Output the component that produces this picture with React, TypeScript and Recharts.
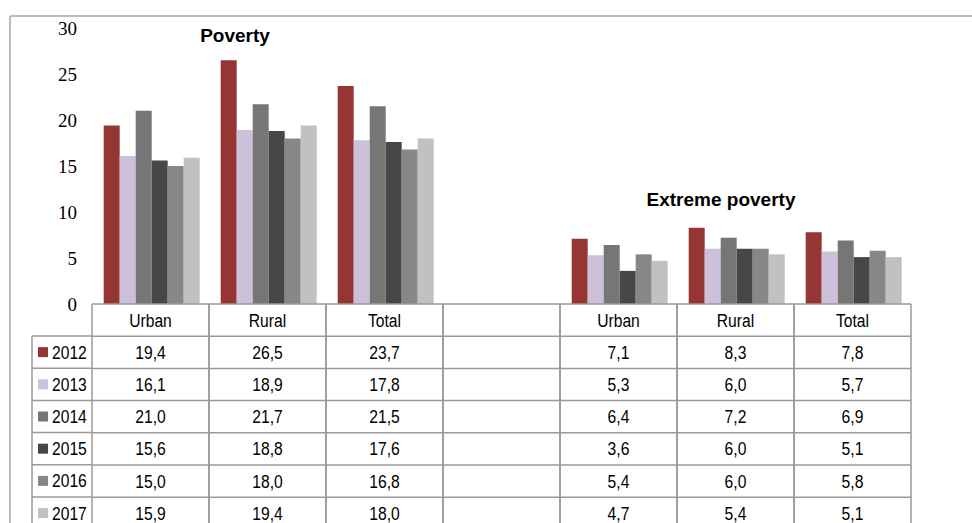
import { BarChart, Bar, XAxis, YAxis, Legend } from "recharts";

// categories along the x axis (blank one separates the two panels)
const CATEGORIES = ["Urban", "Rural", "Total", "", "Urban", "Rural", "Total"];
const YEARS = ["2012", "2013", "2014", "2015", "2016", "2017"];
const COLORS = ["#963634", "#ccc0da", "#767676", "#474747", "#878787", "#c1c1c1"];

const V2012 = [19.4, 26.5, 23.7, null, 7.1, 8.3, 7.8];
const V2013 = [16.1, 18.9, 17.8, null, 5.3, 6.0, 5.7];
const V2014 = [21.0, 21.7, 21.5, null, 6.4, 7.2, 6.9];
const V2015 = [15.6, 18.8, 17.6, null, 3.6, 6.0, 5.1];
const V2016 = [15.0, 18.0, 16.8, null, 5.4, 6.0, 5.8];
const V2017 = [15.9, 19.4, 18.0, null, 4.7, 5.4, 5.1];
const SERIES = [V2012, V2013, V2014, V2015, V2016, V2017];

const Y_TICKS = [0, 5, 10, 15, 20, 25, 30];

const data = CATEGORIES.map((name, i) => {
  const row: any = { key: `c${i}`, name };
  YEARS.forEach((y, s) => (row[y] = SERIES[s][i]));
  return row;
});

const W = 972;
const H = 523;
const PLOT_RIGHT = 911;
const PLOT_LEFT = 92;
const AXIS_Y = 304;
const ROW_H = 32.2;
const COL_W = (PLOT_RIGHT - PLOT_LEFT) / CATEGORIES.length;
const LINE = "#9a9a9a";
const TABLE_FONT = "'Liberation Sans', Arial, sans-serif";

const fmt = (v: number | null) => (v == null ? "" : v.toFixed(1).replace(".", ","));

// narrow table text (Calibri-like look)
const CellText = ({ x, y, anchor = "middle", children }: any) => (
  <text
    transform={`translate(${x} ${y}) scale(0.87 1)`}
    dy="0.36em"
    textAnchor={anchor}
    fontFamily={TABLE_FONT}
    fontSize={18}
    fill="#000"
  >
    {children}
  </text>
);

// one column of the data table, drawn at each x tick
const TableColumn = (props: any) => {
  const { x, index } = props;
  const top = AXIS_Y;
  const left = x - COL_W / 2;
  const right = x + COL_W / 2;
  return (
    <g>
      <line x1={left} x2={left} y1={top} y2={H + 10} stroke={LINE} strokeWidth={1.5} />
      <line x1={right} x2={right} y1={top} y2={H + 10} stroke={LINE} strokeWidth={1.5} />
      {YEARS.map((_, r) => (
        <line key={r} x1={left} x2={right} y1={top + (r + 1) * ROW_H} y2={top + (r + 1) * ROW_H} stroke={LINE} strokeWidth={1.5} />
      ))}
      <CellText x={x} y={top + ROW_H / 2}>{CATEGORIES[index]}</CellText>
      {SERIES.map((s, r) => (
        <CellText key={r} x={x} y={top + (r + 1.5) * ROW_H}>
          {fmt(s[index])}
        </CellText>
      ))}
    </g>
  );
};

// legend doubles as the row headers of the table
const LegendColumn = ({ payload }: any) => {
  const w = PLOT_LEFT - 30;
  const items = payload || [];
  return (
    <svg width={w} height={items.length * ROW_H + 4} style={{ display: "block", overflow: "visible" }}>
      <line x1={2} x2={2} y1={1} y2={items.length * ROW_H + 30} stroke={LINE} strokeWidth={1.5} />
      {items.map((it: any, r: number) => (
        <g key={it.value}>
          <line x1={2} x2={w} y1={1 + r * ROW_H} y2={1 + r * ROW_H} stroke={LINE} strokeWidth={1.5} />
          <rect x={8} y={1 + r * ROW_H + ROW_H / 2 - 5} width={10} height={10} fill={it.color} />
          <CellText x={22} y={1 + r * ROW_H + ROW_H / 2} anchor="start">
            {it.value}
          </CellText>
        </g>
      ))}
    </svg>
  );
};

export default function App() {
  return (
    <div style={{ position: "absolute", left: 0, top: 0, width: W, height: H, background: "#fff" }}>
      <BarChart
        width={W}
        height={H}
        data={data}
        margin={{ top: 28, right: W - PLOT_RIGHT, left: 32, bottom: 0 }}
        barCategoryGap="10%"
        barGap={0}
      >
        <line x1={10} x2={W} y1={16} y2={16} stroke="#a6a6a6" strokeWidth={1.5} />
        <line x1={10} x2={10} y1={16} y2={H} stroke="#a6a6a6" strokeWidth={1.5} />
        <YAxis
          width={60}
          domain={[0, 30]}
          ticks={Y_TICKS}
          interval={0}
          axisLine={false}
          tickLine={false}
          tickSize={0}
          tickMargin={15}
          tick={{ fontFamily: "'Liberation Serif', serif", fontSize: 19, fill: "#000" }}
        />
        <XAxis
          dataKey="key"
          height={H - AXIS_Y}
          interval={0}
          tickLine={false}
          tickSize={0}
          tickMargin={0}
          axisLine={{ stroke: LINE, strokeWidth: 1.5 }}
          tick={<TableColumn />}
        />
        <Legend
          layout="vertical"
          align="center"
          verticalAlign="middle"
          content={<LegendColumn />}
          wrapperStyle={{ left: 30, top: AXIS_Y + ROW_H - 1, width: PLOT_LEFT - 30, height: 200, margin: 0 }}
        />
        {YEARS.map((y, s) => (
          <Bar key={y} dataKey={y} name={y} fill={COLORS[s]} isAnimationActive={false} />
        ))}
        <text x={235} y={42} textAnchor="middle" fontFamily="'Liberation Sans', Arial, sans-serif" fontWeight="bold" fontSize={19} fill="#000">
          Poverty
        </text>
        <text x={721} y={206} textAnchor="middle" fontFamily="'Liberation Sans', Arial, sans-serif" fontWeight="bold" fontSize={19} fill="#000">
          Extreme poverty
        </text>
      </BarChart>
    </div>
  );
}
